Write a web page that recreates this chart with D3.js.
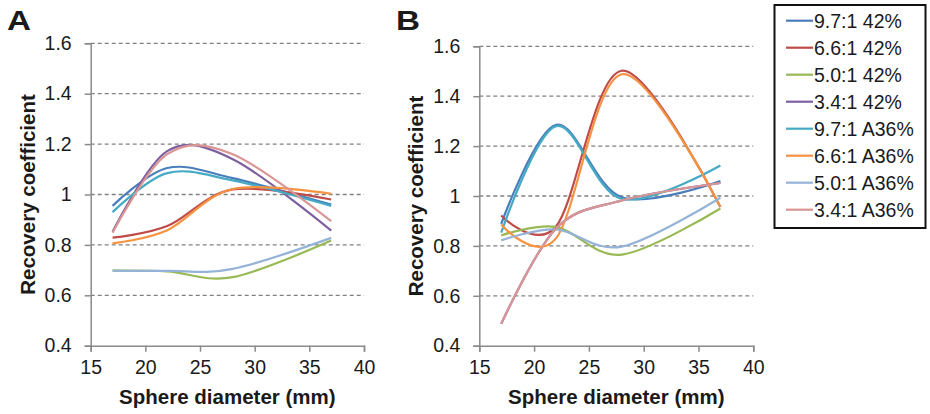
<!DOCTYPE html>
<html>
<head>
<meta charset="utf-8">
<script src="https://cdn.jsdelivr.net/npm/d3@7"></script>
<style>
  body { margin: 0; background: #fff; }
  text { font-family: "Liberation Sans", Arial, sans-serif; fill: #1a1a1a; }
</style>
</head>
<body>
<div id="chart"></div>
<script>
// sphere diameters (mm) where recovery coefficients were measured
const diameters = [17, 22, 28, 37];

const seriesNames = ["9.7:1 42%", "6.6:1 42%", "5.0:1 42%", "3.4:1 42%",
                     "9.7:1 A36%", "6.6:1 A36%", "5.0:1 A36%", "3.4:1 A36%"];
const seriesColors = ["#4a7ebb", "#be4b48", "#98b954", "#7d60a0",
                      "#46aac5", "#f69240", "#95b3d7", "#d99694"];

// panel A values, one row per series, one column per diameter
const panelA = [
  [0.955, 1.105, 1.065, 0.960],
  [0.829, 0.875, 1.020, 0.980],
  [0.698, 0.695, 0.672, 0.817],
  [0.852, 1.172, 1.140, 0.857],
  [0.930, 1.085, 1.056, 0.955],
  [0.806, 0.858, 1.022, 1.003],
  [0.698, 0.697, 0.705, 0.828],
  [0.848, 1.160, 1.160, 0.894]
];

// panel B values (3.4:1 42% lies under 3.4:1 A36%)
const panelB = [
  [0.888, 1.285, 0.995, 1.060],
  [0.922, 0.878, 1.502, 0.956],
  [0.842, 0.876, 0.765, 0.950],
  [0.488, 0.870, 0.982, 1.052],
  [0.853, 1.280, 0.988, 1.122],
  [0.886, 0.830, 1.488, 0.956],
  [0.822, 0.866, 0.797, 0.993],
  [0.488, 0.870, 0.982, 1.052]
];

const xTicks = [15, 20, 25, 30, 35, 40];
const yTicks = [0.4, 0.6, 0.8, 1.0, 1.2, 1.4, 1.6];
const yTickLabels = ["0.4", "0.6", "0.8", "1", "1.2", "1.4", "1.6"];

const width = 930, height = 414;
const axisColor = "#8a8a8a";

const svg = d3.select("#chart")
  .append("svg")
    .attr("width", width)
    .attr("height", height);

function drawPanel(letter, values, box) {
  const x = d3.scaleLinear().domain([15, 40]).range([box.left, box.right]);
  const y = d3.scaleLinear().domain([0.4, 1.6]).range([box.bottom, box.top]);
  const g = svg.append("g");

  // dashed gridlines (skip the bottom one, the x axis sits there)
  g.selectAll(".grid")
    .data(yTicks.slice(1))
    .join("line")
      .attr("x1", box.left).attr("x2", box.right)
      .attr("y1", d => y(d)).attr("y2", d => y(d))
      .attr("stroke", "#808080")
      .attr("stroke-width", 1.3)
      .attr("stroke-dasharray", "4,3");

  // axes
  const xAxis = g.append("g")
    .attr("transform", `translate(0,${box.bottom})`)
    .call(d3.axisBottom(x).tickValues(xTicks).tickSize(6).tickPadding(8).tickFormat(d3.format("d")));
  const yAxis = g.append("g")
    .attr("transform", `translate(${box.left},0)`)
    .call(d3.axisLeft(y).tickValues(yTicks).tickSize(6).tickPadding(13)
      .tickFormat((d, i) => yTickLabels[i]));

  [xAxis, yAxis].forEach(a => {
    a.select(".domain").attr("stroke", axisColor).attr("stroke-width", 1.5);
    a.selectAll(".tick line").attr("stroke", axisColor).attr("stroke-width", 1.5);
    a.selectAll(".tick text")
      .style("font-size", "19.5px")
      .style("font-family", '"Liberation Sans", Arial, sans-serif')
      .attr("fill", "#1a1a1a");
  });

  // smoothed series lines
  const line = d3.line()
    .x((d, i) => x(diameters[i]))
    .y(d => y(d))
    .curve(d3.curveCardinal.tension(0));

  g.selectAll(".series")
    .data(values)
    .join("path")
      .attr("d", d => line(d))
      .attr("fill", "none")
      .attr("stroke", (d, i) => seriesColors[i])
      .attr("stroke-width", 2.2);

  // axis titles
  g.append("text")
    .attr("x", (box.left + box.right) / 2)
    .attr("y", box.bottom + 58)
    .attr("text-anchor", "middle")
    .style("font-size", "20.5px")
    .style("font-weight", "bold")
    .text("Sphere diameter (mm)");

  g.append("text")
    .attr("transform", `translate(${box.yTitleX},${(box.top + box.bottom) / 2}) rotate(-90)`)
    .attr("text-anchor", "middle")
    .style("font-size", "20.5px")
    .style("font-weight", "bold")
    .text("Recovery coefficient");

  // panel letter
  g.append("text")
    .attr("x", box.letterX)
    .attr("y", 30)
    .style("font-size", "28px")
    .style("font-weight", "900")
    .attr("textLength", 24)
    .attr("lengthAdjust", "spacingAndGlyphs")
    .text(letter);
}

drawPanel("A", panelA, {left: 90.7, right: 364, top: 43.3, bottom: 345.7, yTitleX: 35, letterX: 7});
drawPanel("B", panelB, {left: 479.3, right: 753.3, top: 46.3, bottom: 345.7, yTitleX: 423, letterX: 396});

// legend
const legend = svg.append("g");
legend.append("rect")
  .attr("x", 774.5).attr("y", 5)
  .attr("width", 151).attr("height", 223)
  .attr("fill", "#fff")
  .attr("stroke", "#111")
  .attr("stroke-width", 2);

const rows = legend.selectAll(".row")
  .data(seriesNames)
  .join("g")
    .attr("transform", (d, i) => `translate(0,${20.7 + i * 27})`);

rows.append("line")
  .attr("x1", 786).attr("x2", 813)
  .attr("stroke", (d, i) => seriesColors[i])
  .attr("stroke-width", 2.2);

rows.append("text")
  .attr("x", 814)
  .attr("dy", "0.35em")
  .style("font-size", "19.5px")
  .text(d => d);
</script>
</body>
</html>
